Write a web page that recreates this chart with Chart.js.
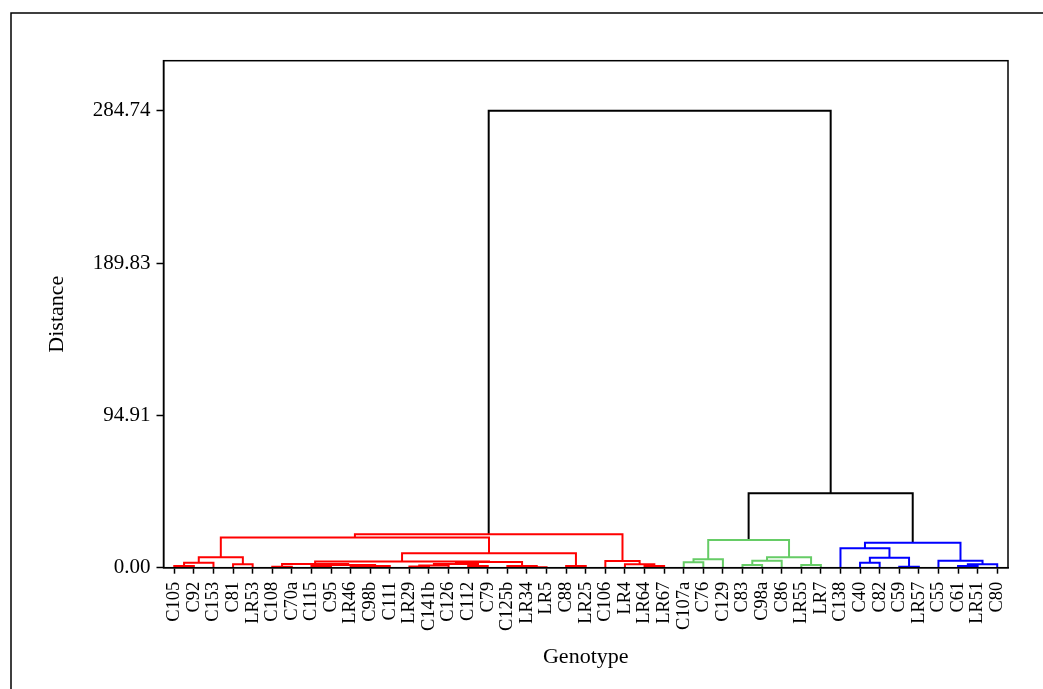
<!DOCTYPE html>
<html>
<head>
<meta charset="utf-8">
<script src="https://cdn.jsdelivr.net/npm/chart.js@4.4.1/dist/chart.umd.min.js"></script>
<style>
html, body { margin: 0; padding: 0; background: #fff; }
#wrap { width: 1043px; height: 689px; position: relative; }
</style>
</head>
<body>
<div id="wrap"><canvas id="chart"></canvas></div>
<script>
var leaves = ['C105', 'C92', 'C153', 'C81', 'LR53', 'C108', 'C70a', 'C115', 'C95', 'LR46',
	'C98b', 'C111', 'LR29', 'C141b', 'C126', 'C112', 'C79', 'C125b', 'LR34', 'LR5',
	'C88', 'LR25', 'C106', 'LR4', 'LR64', 'LR67', 'C107a', 'C76', 'C129', 'C83',
	'C98a', 'C86', 'LR55', 'LR7', 'C138', 'C40', 'C82', 'C59', 'LR57', 'C55',
	'C61', 'LR51', 'C80'];

// linkage rows: [left node, right node, distance]
// node ids below 43 are leaves, 43 + k is row k
var links = [
	[0, 1, 1.1],     // 43
	[43, 2, 3.1],    // 44
	[3, 4, 2.1],     // 45
	[44, 45, 6.5],   // 46
	[5, 6, 0.6],     // 47
	[7, 8, 1.1],     // 48
	[9, 10, 0.4],    // 49
	[49, 11, 1.0],   // 50
	[48, 50, 1.7],   // 51
	[47, 51, 2.3],   // 52
	[12, 13, 0.7],   // 53
	[53, 14, 1.4],   // 54
	[15, 16, 1.0],   // 55
	[54, 55, 2.3],   // 56
	[18, 19, 0.25],  // 57
	[17, 57, 1.1],   // 58
	[56, 58, 3.5],   // 59
	[52, 59, 3.9],   // 60
	[20, 21, 1.1],   // 61
	[60, 61, 9.0],   // 62
	[46, 62, 18.9],  // 63
	[24, 25, 1.1],   // 64
	[23, 64, 2.1],   // 65
	[22, 65, 4.2],   // 66
	[63, 66, 20.8],  // 67
	[26, 27, 3.4],   // 68
	[68, 28, 5.2],   // 69
	[29, 30, 1.7],   // 70
	[70, 31, 4.4],   // 71
	[32, 33, 1.7],   // 72
	[71, 72, 6.5],   // 73
	[69, 73, 17.3],  // 74
	[35, 36, 3.1],   // 75
	[37, 38, 0.6],   // 76
	[75, 76, 6.2],   // 77
	[34, 77, 12.1],  // 78
	[40, 41, 1.1],   // 79
	[79, 42, 2.1],   // 80
	[39, 80, 4.4],   // 81
	[78, 81, 15.6],  // 82
	[74, 82, 46.4],  // 83
	[67, 83, 284.74] // 84
];

var yTicks = [0, 94.91, 189.83, 284.74];
var yTickLabels = ['0.00', '94.91', '189.83', '284.74'];
var clusterColors = ['#ff0000', '#66cc66', '#0000ff'];
var cutHeight = 30;

var n = leaves.length;
var pos = [], height = [], color = [];
for (var i = 0; i < n; i++) {
	pos[i] = i;
	height[i] = 0;
}
links.forEach(function(l, k) {
	pos[n + k] = (pos[l[0]] + pos[l[1]]) / 2;
	height[n + k] = l[2];
});

// colour: black above the cut, one colour per cluster below it
var nextColor = 0;
function paint(id, c) {
	if (id < n) return;
	var row = links[id - n];
	if (c === null && height[id] <= cutHeight) {
		c = clusterColors[nextColor++];
	}
	color[id] = c === null ? '#000000' : c;
	paint(row[0], c);
	paint(row[1], c);
}
paint(n + links.length - 1, null);

var datasets = links.map(function(l, k) {
	var a = l[0], b = l[1];
	return {
		data: [
			{x: pos[a], y: height[a]},
			{x: pos[a], y: l[2]},
			{x: pos[b], y: l[2]},
			{x: pos[b], y: height[b]}
		],
		borderColor: color[n + k],
		borderWidth: 2,
		pointRadius: 0,
		fill: false,
		tension: 0
	};
});

var serif = 'Liberation Serif';

var framePlugin = {
	id: 'frame',
	beforeDraw: function(chart) {
		var ctx = chart.ctx;
		ctx.save();
		ctx.fillStyle = '#fff';
		ctx.fillRect(0, 0, chart.width, chart.height);
		ctx.strokeStyle = '#000';
		ctx.lineWidth = 1.5;
		ctx.beginPath();
		ctx.moveTo(11, chart.height);
		ctx.lineTo(11, 13);
		ctx.lineTo(chart.width, 13);
		ctx.stroke();
		ctx.restore();
	},
	afterDraw: function(chart) {
		var a = chart.chartArea, ctx = chart.ctx;
		ctx.save();
		ctx.strokeStyle = '#000';
		ctx.lineWidth = 1.5;
		ctx.strokeRect(a.left, a.top, a.right - a.left, a.bottom - a.top);
		ctx.restore();
	}
};

new Chart(document.getElementById('chart'), {
	type: 'line',
	data: {datasets: datasets},
	plugins: [framePlugin],
	options: {
		responsive: true,
		maintainAspectRatio: false,
		animation: false,
		layout: {padding: {left: 0, top: 60.7, right: 35, bottom: 0}},
		plugins: {legend: {display: false}, tooltip: {enabled: false}},
		scales: {
			x: {
				type: 'linear',
				min: -0.55,
				max: 42.55,
				afterFit: function(scale) { scale.height = 121.3; },
				afterBuildTicks: function(scale) {
					scale.ticks = leaves.map(function(name, i) { return {value: i}; });
				},
				ticks: {
					autoSkip: false,
					minRotation: 90,
					maxRotation: 90,
					padding: 8,
					color: '#000',
					font: {family: serif, size: 18.5},
					callback: function(v) { return leaves[v]; }
				},
				grid: {drawOnChartArea: false, tickLength: 6, tickColor: '#000', tickWidth: 1.5},
				border: {color: '#000', width: 1.5},
				title: {display: true, text: 'Genotype', color: '#000',
					font: {family: serif, size: 22}, padding: {top: 0, bottom: 19}}
			},
			y: {
				min: 0,
				max: 316,
				afterFit: function(scale) { scale.width = 163.5; },
				afterBuildTicks: function(scale) {
					scale.ticks = yTicks.map(function(v) { return {value: v}; });
				},
				ticks: {
					padding: 6,
					color: '#000',
					font: {family: serif, size: 21},
					callback: function(v) { return yTickLabels[yTicks.indexOf(v)]; }
				},
				grid: {drawOnChartArea: false, tickLength: 7, tickColor: '#000', tickWidth: 1.5},
				border: {color: '#000', width: 1.5},
				title: {display: true, text: 'Distance', color: '#000',
					font: {family: serif, size: 22}, padding: {top: 44, bottom: 0}}
			}
		}
	}
});
</script>
</body>
</html>
